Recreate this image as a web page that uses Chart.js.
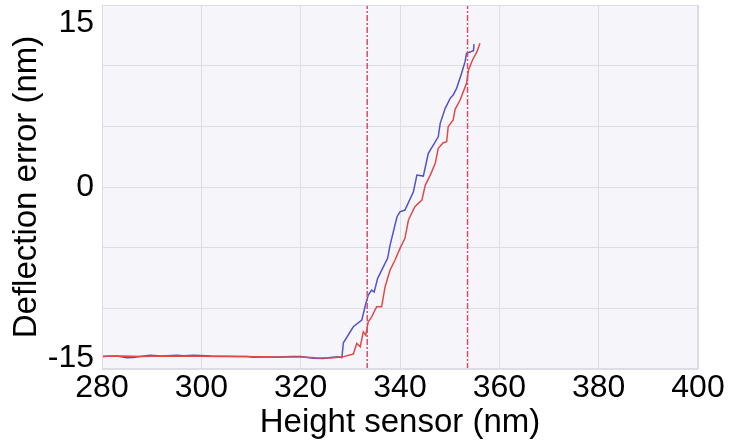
<!DOCTYPE html>
<html lang="en">
<head>
    <meta charset="UTF-8">
    <title>Deflection error vs height sensor</title>
    <script src="https://cdn.jsdelivr.net/npm/chart.js"></script>
    <style>
        body { margin: 0; background: white; }
        canvas { display: block; }
    </style>
</head>
<body>
    <canvas id="forceChart" width="735" height="447"></canvas>
    <script>
        // approach curve (blue) and retract curve (red), nm
        const blueX = [280, 281, 283, 285, 286.3, 288, 289.7, 292, 295, 296.5, 298.4, 299.8, 302, 305, 307.2, 309.2, 310.4, 313, 315.3, 318, 320, 322.5, 324.5, 326, 327.5, 328.3, 328.6, 330.6, 332.3, 333.0, 333.6, 334.3, 334.8, 335.5, 337.5, 338.0, 339.4, 340.0, 341.0, 342.7, 343.4, 344.7, 345.7, 346.7, 347.7, 348.1, 349.1, 350.1, 350.7, 351.4, 352.4, 353.1, 353.4, 354.8, 354.9];
        const blueY = [-14.0, -13.95, -13.93, -14.08, -14.06, -13.95, -13.86, -13.93, -13.87, -13.9, -13.86, -13.88, -13.93, -13.94, -13.97, -13.98, -14.03, -14.02, -14.03, -13.97, -13.98, -14.12, -14.14, -14.05, -14.0, -14.06, -12.84, -11.52, -10.97, -9.81, -8.91, -8.50, -8.66, -7.53, -5.88, -4.79, -2.45, -2.04, -1.90, -0.39, 0.98, 0.90, 2.77, 3.46, 4.14, 5.25, 6.48, 7.31, 7.58, 8.13, 9.37, 10.33, 11.02, 11.23, 11.78];
        const redX = [280, 284, 288, 292, 296, 300, 304, 308, 312, 316, 320, 323, 326, 328.5, 330.6, 331.3, 332.0, 332.6, 333.1, 333.6, 334.3, 335.3, 336.3, 337.0, 338.0, 339.0, 340.0, 341.0, 341.7, 343.0, 343.7, 344.4, 345.1, 346.1, 347.1, 347.7, 348.7, 349.4, 349.7, 350.7, 351.1, 352.1, 353.4, 353.8, 354.6, 355.5, 356.1];
        const redY = [-13.95, -13.92, -13.97, -13.93, -13.95, -13.94, -13.96, -13.97, -14.0, -14.02, -14.02, -14.08, -14.1, -14.0, -13.77, -12.89, -13.17, -11.93, -12.21, -11.11, -10.70, -9.87, -9.87, -8.22, -6.85, -6.02, -5.06, -4.23, -2.72, -1.63, -1.35, -1.08, 0.16, 0.98, 1.95, 3.19, 3.65, 3.73, 4.97, 5.52, 6.40, 7.17, 8.54, 9.64, 10.47, 11.15, 11.84];

        // vertical cursor lines
        const markerX = [333.4, 353.6];

        // axis ticks
        const xTicks = [280, 300, 320, 340, 360, 380, 400];
        const yTicks = [-15, -10, -5, 0, 5, 10, 15];
        const yLabels = [-15, 0, 15];

        const fontFamily = "'Liberation Sans', Arial, sans-serif";

        function toPoints(xs, ys) {
            return xs.map((x, i) => ({ x: x, y: ys[i] }));
        }

        function markerLine(x) {
            return {
                data: [{ x: x, y: -15 }, { x: x, y: 15 }],
                borderColor: '#d4506c',
                borderWidth: 1.5,
                borderDash: [6, 2, 2, 2],
                pointRadius: 0,
                showLine: true
            };
        }

        // plot background + frame
        const plotBackground = {
            id: 'plotBackground',
            beforeDraw(chart) {
                const { ctx, chartArea: a } = chart;
                ctx.save();
                ctx.fillStyle = '#f6f6fa';
                ctx.fillRect(a.left, a.top, a.right - a.left, a.bottom - a.top);
                ctx.restore();
            },
            afterDatasetsDraw(chart) {
                const { ctx, chartArea: a } = chart;
                ctx.save();
                ctx.strokeStyle = '#dcdce4';
                ctx.lineWidth = 1;
                ctx.strokeRect(a.left + 0.5, a.top + 0.5, a.right - a.left - 1, a.bottom - a.top - 1);
                ctx.restore();
            }
        };

        // y labels only at -15, 0, 15, pulled inside the plot at the ends
        const yTickLabels = {
            id: 'yTickLabels',
            afterDraw(chart) {
                const { ctx, scales } = chart;
                const y = scales.y;
                ctx.save();
                ctx.font = '32px ' + fontFamily;
                ctx.fillStyle = '#000';
                ctx.textAlign = 'right';
                ctx.textBaseline = 'middle';
                yLabels.forEach(v => {
                    let py = y.getPixelForValue(v);
                    if (v === y.max) py += 18;
                    if (v === y.min) py -= 11;
                    ctx.fillText(String(v), y.right - 8, py);
                });
                ctx.restore();
            }
        };

        new Chart(document.getElementById('forceChart'), {
            type: 'scatter',
            data: {
                datasets: [
                    markerLine(markerX[0]),
                    markerLine(markerX[1]),
                    {
                        data: toPoints(redX, redY),
                        borderColor: '#e04a4a',
                        borderWidth: 1.5,
                        pointRadius: 0,
                        showLine: true
                    },
                    {
                        data: toPoints(blueX, blueY),
                        borderColor: '#5252cc',
                        borderWidth: 1.5,
                        pointRadius: 0,
                        showLine: true
                    }
                ]
            },
            options: {
                responsive: false,
                animation: false,
                layout: { padding: { top: 5, right: 37, bottom: 4, left: 0 } },
                plugins: {
                    legend: { display: false },
                    tooltip: { enabled: false }
                },
                scales: {
                    x: {
                        type: 'linear',
                        min: 280,
                        max: 400,
                        afterBuildTicks: s => { s.ticks = xTicks.map(v => ({ value: v })); },
                        afterFit: s => { s.height = 74; },
                        grid: { color: '#dddde6', drawTicks: false },
                        border: { display: false },
                        ticks: {
                            padding: 0,
                            color: '#000',
                            maxRotation: 0,
                            font: { family: fontFamily, size: 32 }
                        },
                        title: {
                            display: true,
                            text: 'Height sensor (nm)',
                            color: '#000',
                            padding: 0,
                            font: { family: fontFamily, size: 33 }
                        }
                    },
                    y: {
                        type: 'linear',
                        min: -15,
                        max: 15,
                        afterBuildTicks: s => { s.ticks = yTicks.map(v => ({ value: v })); },
                        afterFit: s => { s.width = 102; },
                        grid: { color: '#dddde6', drawTicks: false },
                        border: { display: false },
                        ticks: { display: false },
                        title: {
                            display: true,
                            text: 'Deflection error (nm)',
                            color: '#000',
                            padding: 0,
                            font: { family: fontFamily, size: 33, lineHeight: 1.64 }
                        }
                    }
                }
            },
            plugins: [plotBackground, yTickLabels]
        });
    </script>
</body>
</html>
